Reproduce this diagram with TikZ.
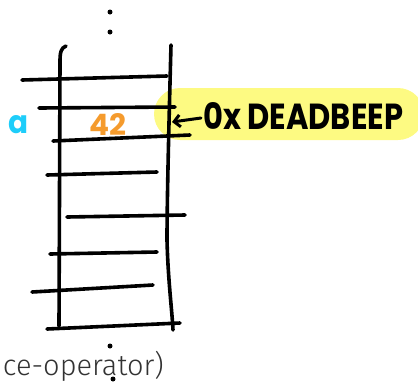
\documentclass[tikz,border=0pt]{standalone}
\usepackage{fontspec}
\setmainfont{Fira Sans}
\newfontfamily\handfont{Poppins}
\newfontfamily\bodyfont{Fira Sans Light}
\usetikzlibrary{arrows.meta}
\definecolor{hlyellow}{RGB}{253,250,130}
\definecolor{varcyan}{RGB}{30,205,250}
\definecolor{valorange}{RGB}{245,155,45}
\definecolor{bodygray}{RGB}{50,50,50}
\begin{document}
\begin{tikzpicture}[x=1pt,y=-1pt,
  ink/.style={line width=3.6pt,line cap=round,line join=round,black},
  dotmark/.style={circle,fill=black,inner sep=0pt,minimum size=5pt}]
\useasboundingbox (0,0) rectangle (418,384);
% highlight behind the address
\fill[hlyellow,rounded corners=26pt] (154,88) rectangle (424,140);
% ellipsis dots
\node[dotmark] (dtop1) at (110,12) {};
\node[dotmark] (dtop2) at (110,32) {};
\node[dotmark] (dbot1) at (110,346) {};
\node[dotmark] (dbot2) at (113,379) {};
% vertical walls
\draw[ink] (66,46) .. controls (61,48) and (60,52) .. (60,62) -- (59,326);
\draw[ink] (171,45) .. controls (169,120) and (167,200) .. (167,240) .. controls (168,280) and (172,310) .. (173,330);
% horizontal slots
\draw[ink] (22,80) -- (167,76);
\draw[ink] (39,108) -- (175,107);
\draw[ink] (53,141) -- (190,135);
\draw[ink] (47,175) -- (157,172);
\draw[ink] (67,217) -- (185,215);
\draw[ink] (50,254) -- (157,252);
\draw[ink] (32,292) -- (153,285);
\draw[ink] (47,329) -- (180,323);
% labels
\node[inner sep=0pt,text=varcyan] (var) at (19,125) {\resizebox{20pt}{18pt}{\handfont\bfseries a}};
\node[inner sep=0pt,text=valorange] (val) at (108,124) {\resizebox{37pt}{22pt}{\handfont\bfseries 42}};
\node[inner sep=0pt,anchor=west] (addr) at (203,116) {\resizebox{200pt}{27pt}{\handfont\bfseries 0x DEADBEEP}};
\coordinate (slot) at (172,122);
\draw[ink,line width=3pt,-{Straight Barb[length=6pt,width=12pt]}] (addr.west) ++(-2,2) -- (slot);
\node[inner sep=0pt,anchor=base east,text=bodygray,font=\bodyfont\fontsize{29}{34}\selectfont] (caption) at (164,375) {ce-operator)};
\end{tikzpicture}
\end{document}
